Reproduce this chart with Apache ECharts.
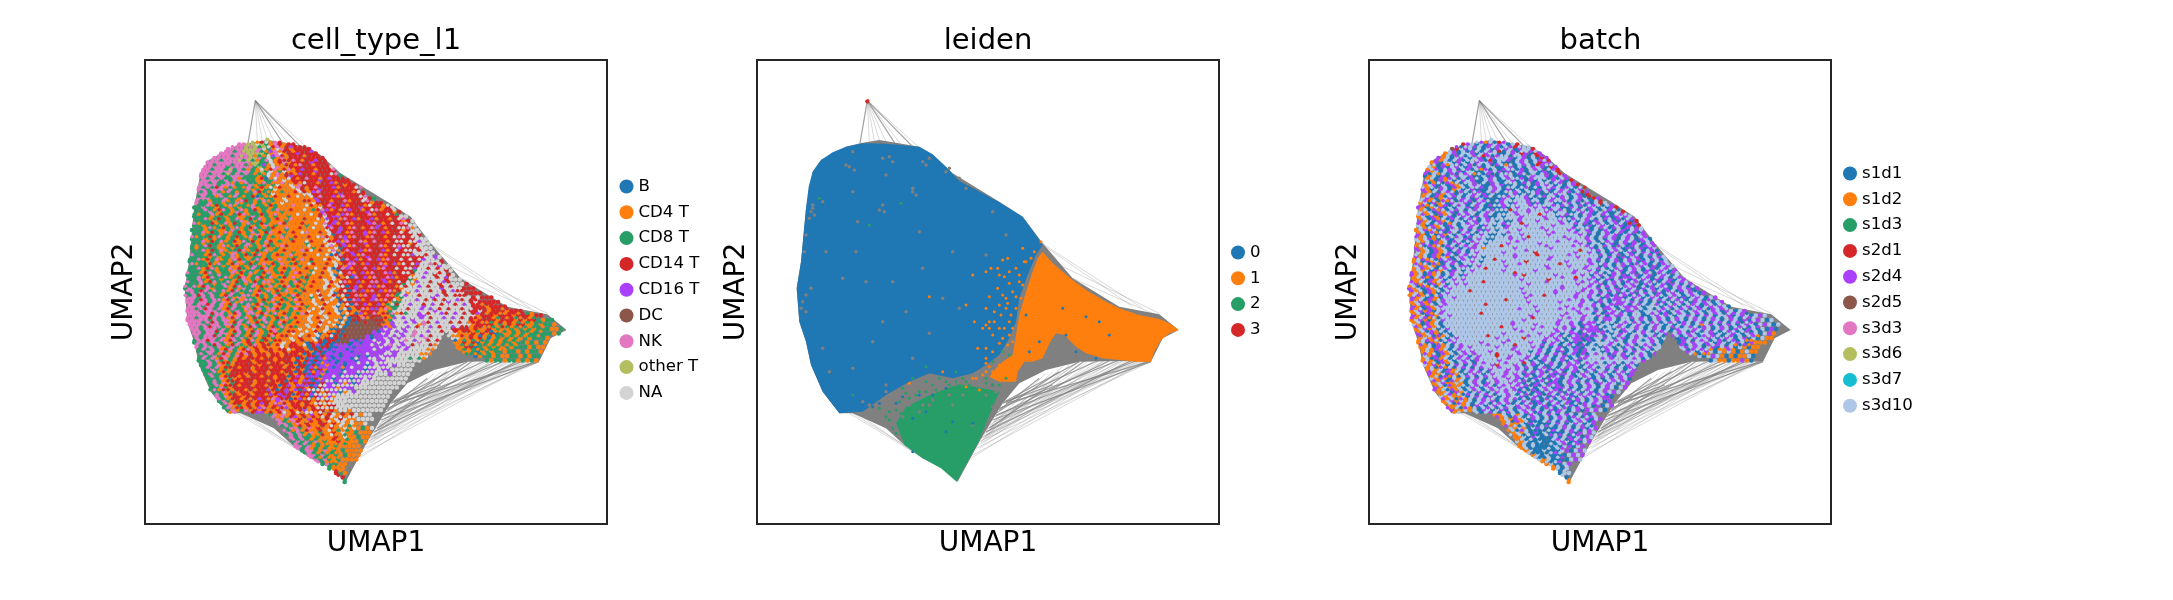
<!DOCTYPE html>
<html><head><meta charset="utf-8">
<style>html,body{margin:0;background:#fff}#c{width:2173px;height:600px}</style>
<script src="https://cdn.jsdelivr.net/npm/echarts@6/dist/echarts.min.js"></script></head>
<body><div id="c"></div>
<script>
const cellTypes=["B","CD4 T","CD8 T","CD14 T","CD16 T","DC","NK","other T","NA"];
const cellTypeColors=["#1f77b4","#ff7f0e","#279e68","#d62728","#aa40fc","#8c564b","#e377c2","#b5bd61","#d3d3d3"];
const leidenNames=["0","1","2","3"];
const leidenColors=["#1f77b4","#ff7f0e","#279e68","#d62728"];
const batches=["s1d1","s1d2","s1d3","s2d1","s2d4","s2d5","s3d3","s3d6","s3d7","s3d10"];
const batchColors=["#1f77b4","#ff7f0e","#279e68","#d62728","#aa40fc","#8c564b","#e377c2","#b5bd61","#17becf","#aec7e8"];

// outlines (UMAP units as read: x right, y down)
const hull=[[244,17],[222,145],[280,135],[400,155],[440,180],[500,235],[640,320],[710,365],[770,445],[860,550],[1000,635],[1120,658],[1178,705],[1130,730],[1095,800],[1000,798],[880,800],[780,825],[700,865],[650,925],[610,990],[580,1040],[515,1160],[470,1120],[410,1090],[355,1050],[300,1000],[200,955],[160,955],[110,890],[75,810],[60,740],[40,680],[32,580],[45,500],[60,340],[80,230],[105,195],[180,155],[222,145]];
const cellsOutline=[[180,150],[280,135],[400,155],[440,180],[500,240],[640,325],[710,370],[770,450],[860,555],[1000,635],[1120,665],[1178,705],[1130,730],[1095,800],[940,800],[860,770],[815,712],[760,790],[730,800],[700,860],[650,920],[600,990],[578,1040],[512,1160],[465,1120],[410,1090],[355,1050],[320,990],[290,960],[215,950],[160,955],[110,890],[75,810],[60,740],[40,680],[32,580],[45,500],[60,340],[80,230],[105,195]];
const edgesDark=[[244,17,222,145],[244,17,380,155],[244,17,330,150],[1090,800,660,925],[1000,795,640,940],[940,795,650,925],[880,800,655,920],[1050,798,630,960],[800,870,660,920],[1095,800,620,975],[900,795,610,1000],[1040,795,600,1010],[760,850,640,945],[820,830,630,955],[970,797,625,965]];
const edgesLight=[[244,17,250,140],[244,17,280,135],[244,17,300,140],[244,17,350,155],[244,17,400,158],[244,17,265,138],[760,440,1070,640],[770,450,1040,635],[800,500,1120,655],[860,550,1110,660],[1095,800,580,1040],[1060,798,585,1030],[1030,798,590,1025],[1000,798,575,1050],[970,798,595,1015],[940,798,600,1005],[1090,795,560,1080],[1020,798,555,1090],[1080,800,570,1060],[1095,790,600,1020],[950,800,610,990],[920,800,590,1035],[870,805,600,1012],[830,815,595,1020],[800,830,585,1040],[1070,795,640,960],[1000,795,630,970],[200,955,355,1050],[190,955,380,1070],[220,960,410,1090],[250,965,360,1040],[110,890,200,955],[1085,798,610,1000],[1045,797,605,1010],[1010,797,612,995],[985,797,600,1030],[955,797,590,1045],[905,800,597,1025],[850,810,590,1030],[1075,797,625,980],[1040,795,618,990],[1015,795,580,1060],[880,800,620,980],[780,835,600,1005]];

// cells per row, left to right inside the outline, one digit per category
const cellTypeRows=["77","6677872163133333","66667776821863133333","66666677772168133433333","6666666677628216133333333","6666666666772281361333343333","66666266666272186113333333338","6666666266621728128113333433333","66666626662221281613433333333332","6666262666221122618133333343333333","66662666222612212811816333333333133","662666262226121228111183133433333333","6626622262221212811111188333333433333","6662226221222612211811111143333333333832","622622122612212121181111118333433333333133","226221221212261221211111111183343333343333138","22262122162122121112111111114333333333433333138","222212212211262121211211111138344333333333333388","2222122122612121211121111111183433333343333333138","22122212122121216121111112111843333333333433333388","222122112621212122111211111111833433333333333331388","2212221212212161211121111111118033333343333333333838","22212122121221212111112111111181334333333333333333888","22122212211262121211111112111188343333433333333313888","212222112122122121121111111211118033333333333343333888","222122121621212112111121111111180134333333333333388888","22221212261211221211111211111111833333343333333333338848","222212122121621211121111211211118133433333333333333388883","2222122121121262121211112111111183143333333433333338888488","22212212216212212112112111121118103333333333333333288888838","2222122622121212212111211112111180133433333333333318888388383","22621221221261212112111121211181813333333334333332188888838883","222622126212212621121112112111181833333333333333281888883888883","26222612221216221211212111211118181333433333333318888888848888333","262626221262122161212111121118118033333333333332818888888388883333","66262622621612212121121211121811801333333433331288888848888888838333","6626626261216222121121121111811811033333333331228888888888488883833333","666266261262162121211211112118118013133333331228888848888888888333133333","66626662612621621211211211181181180131133331128888888884888888833831333133331333","666662662616212621121121111811811101331353311288888448888888888813331333133313331","66666262661262121621211211181181180103355533128888488888888888831333313331313321221","666626626626126212121211118118118010555555311488888168888888888133331213133112122122","66266626216261212161211181181180055555555548488488888888883333131131211212121222112","6626626612621261213111818118013055555555448488488688888888811131313021121212222212","62666261626212131211181311801303555555404484848888868888888113131012121212122212","2662662612613213121181311031303055504044484848488868888888113130121212212212121","626626126212131311181333103033004440444448448484888888888111330212121212221211","22662621261313113113133331030404440444444484488888888888881112012122122121221","2626261263131331331333313303404044404044844488888888888811211012212112212122","2262621213331333313331313030404044404448448888888888888888888221212212212121","2262612133333133333131330304144404444048448488888","22621213333133333333131030314440444404484488888","2622123331333313331313303414440444044488848888","222612133333333133133130314404440448488888888","26261233331333313313133303440414048888888888","226213333333313133133130344414448888888888","2261213313333133431333031344018488888888","626133133333313431133034141888888888888","26213313133314613133313131888888888888","261213131313461331331313388888888888","261261313113613134133313188188888888","26161313141313813138188","6126131413131838118888","66216131133131818118","26621613113118181218","6262161211318112111","626221211131811211","26262612113111121","662612121211111","26621612121111","662621212111","6262121111","262211","2111","321","31","2"];
const cellTypeOverlay=["71381633","666767278361343333","662677762146133133343","666267671218463133313336","66266672721268133363133433","626662662172418113316331333","662662726212181361361343313336","6626627262621218161331433133386","626262261222130181183136331343331","662622612162216211611318331334133313","6262361212162131813118631363334133386","2626216212126321112113831463331333183","26221621621230211311318118363341633386","622122612163212612118111331433133613386","2261321612216221321116118311363341333183318","226213621261231212611311812364131643313861338","2122613212361223216111181181363314613336133832","22612321261232612131161131181433163413341331386","612231261321622321163111311816341361333463138368","2216123216123621231161131181136343163136431338861","226132161231262136131131861131834316334163413383888","612231621232162321216113113186313641633163313868388","2261326123162312631211311831183341633613633138838848","2126321612326121632163111181138613416331336138688388","2261326122361232612131116381318613633416334138388838","622136212612323612132161131181803633416333613838848838","2261326121632126132161231613118318063413634163383838488","61223162136123216132612311831131813663143361341838488638","2261361226132162361213261131813803641336341633838848838388","6221362122613261236123216311813181836134163364138838848838","22613622612361263261231612311311831806341633641338884883848","62261362261326132661231263113118318613413663413838848838843","6261362226136226132612362311311831880341364163318388483883838","66236262613622613261326121311311813806341634161388848838838433","626362621362266132126312631181318318036163413612848838884838333","66236266136216621326132163118131813806413461638188848383838843833","62663626136226136226321263118131181806341341283884883848388384833133","662636261362261362663212631181311818013614416128838848483838838833313313","666263662136266136261321263118131818104136135613288483884384838343133113313213","662663626136261326213261311813181118053613553148488848388484838331331231321312","6662636261362613261263213118131811805053555514884848638488383813311213131212122","6626366213621362613261321181318118055555555414884838848388483313311213212121221","662663621362136123621331181318113055555540448484868848838831331213011212122121","626636213621361236133118131811830355554044484848684838888113131012122121212212","2663626136213612313311813118303305540444844848868488383131012121221212121","626236213621361331381331803403044404444844868848388831112012121221212121","262621362136131331338133103040444044444844488848888111201212121212211","626213621363133133133310304044404444484448848888811120121212212121","262613621313331331333103040414044408448848888882821212212121","2262133133331331331330304041440404484848888888","262613331331333133133030414440414844888888","22613133333133133133030414404448448888888","26213331313313313303414440448488888888","2621333133133133303414404488488888888","26133313313313303414440488488888888","2613313313133430341404888888888","62133133133143433034148888888888","62133131343164330341818888888","2613313134316131331318888888","26133131461313413331388888888","161313441313813818818","6161341313183818188","62163113131818818","26213131131818121","6216131131812121","262612113181121","62621211131121","6262121111121","6261212111","262121211","6212111","62111","2111","31","3","2"];
const batchRows=["94","3490904949093494","53949090904949049934","19409940949900949340349","4190949094094999409409034","1409904909499409000949093449","91040949049409900940909494034","4190949409900949404094099040934","01904094994009040949000949940494","9104190949400949009409040909494034","19409041909490049400900904949090943","410949019094000949040909004940949094","1904194090949409000940909400949909403","9410194094904900004909940900949490949034","190419049940949000490499404099009490940939","410194090994049000040949994940990049094909043","91904194094990949000949949994909900949409400933","190410940949049400909994999949904009094990404949","4190419099094094909009499949999490909404909409403","91041904909949049090499949999949999090409490940403","194190409949094049099994999994999949094090490940949","4109041909490949009099949999949999994909094940940949","91941094099409490099949949999999994999490909409490490","14904190949094909999499999949999999949099094094049094","419041904909449199999949999999499999999409094904094049","9190419404909499999499999939999999949949090490940949049","41904191094904909999994999999949999949999094904094090949","190419049409949099994999939999999949999490909409490490949","9419104909440949999949999999949999499949904909404949040949","19190419049094999999499999949999999949949099094094904094904","4190419094904999999999949399999949999949094904940940940949094","11904190949499999999999949999939999949949094094904949040940949","941904190949499999999999994999999999949949409490949049094049094","41904190949999999999999994999999994999949949094094904940940949404","191041094999999999999999949999994999949949490904940949040949094904","41904109949999999999999994999999999949949904944094909490949040949094","1941409499999999999999999949999994999949904909449490909049094904949094","410419499999999999999999999499999949949949049094449099909490949409494909","19414094999999999999999999994999999994999490949044909994909490949094904909490","4190419949999999999999999949999994999949949094490990094949099490949099409490949","194101949999999999999999949999999499994990944909909490949094909490949094904094909","91041909999999999999994999949999499490449099094909490949090949091949094909490949094","194190949999999999999949994999949490944440990949949094909049994949094904904909040","41941090999999999994999999949949094404909490949099499094094949099409094909490941","1914190949999999949999939999494909440409949094094994909490409499490949094090911","190419094999994999949999949909490904090999949909499949094904949949049094904111","1190419094949999949994999490909409040999049090949094994940949490940949091011","191041909494999499999499094909040940499904949094990949094994909490919101911","91401909490949993994999490949094090949999409409949090949090949094910101190","19104190949049999499994909049094094099999999999994949094990949410911011410","9141909490949994399949094090490944909499949094909","19190419094909499949490904940940949094990949094","4119041909490949949490409494044909490949094904","914109190949094994940904904940949094090949490","19411910949049499494090490440949094904949094","4191190949094949949409094904490909490949094","11904190949094949940904094940949094094949","919119094904909499409409049494094909440","19419190949409490949040949094049094904","1191904909490994949094049094094904094","41191904909409094949094049094049490940","11909190490949094909409","19141904909094909494094","191190490009490949094","91910949000949094094","1919040900009404949","119049000909409049","91900900094904094","190900009094094","19009000940949","190900009494","9190000949","190094","1909","099","09","1"];
const batchOverlay=["94190349","409949049409439994","940904909493094099490","190490949340499099409349","41909409994030994094909493","904199094090904919094903499","194094909409140904990409490943","4091904094919040099904909094093","190414909049094909499404999040943","4019041909940904909990490499094094034","9190490419099409490990940909949049093","4190949049094094909949099409094940934","19041094909490490994999490949904909403","94190419049409490949999949909499409409093","41901409490949049949999949999494909409490943","1904190949094909499939994999949490949049094903","94190419049490949099994999939999949909409490949","190419049094909499999949999949999949949094904094","4190940190949499999499939999999949949409490949034","91941904909490999994999999949999994999094904904949","1904190490949099999949999999994999949949094094094040","41901940949049999999949993999999949999490949409490949","919041904909499999999949999999949994994909490949404904","1904190490949499999399999999949999949949094904904904949","41904190949099999999999949999999999939994909490949094049","919041049094999999999949999399999949999994909409490949094","19419049409499999939999999999949999999949490940949409490949","41904109490999999999999499999999399999949949094904940904904","1941909490999999399999999999994999999949949094909490940949094","41904190949999999999999399999999999949999490949094094904904949","19410949099999999999999999999999949939994909490449094094909490","4190419499999999399999999999994999999949949094904940949094094949","1904190949999999999999999999999999499999490949094940904949094909","4190419099999399999999999999999949999949490949490949094904904940","19419094999999999999999999949939999994994909404940949094909490949","4190419499999999999993999999999999949949094904499094909490949094904","194190949999999939999999999999999999949949094449094909490949094904909","41904199999999999999999949999999949949949094490949490909490949094904949","190419499999999399999999999999999949949909044949099094904094909490949094940","41941909999999999999999999939999999499499094490994949094909490949094909490949","1904190999999999999999499999999949949094490990949490949094904909490949094094","41941909999999999993999999994999949490944909949094909490949094904909490949094","19041909999999999999999499999994994909444409904909490949094904909490949094090","4190419099999993999999994999949490944044909949094909490949094904949094090941","194190949999999999994999999949949094404090994909490949094904909490940940911","41904190949999949999939999949490949040909949094909490949094094904949091041","1914190949999999999949999949094909404909949094909490949094904949101141","4190419094949999399994999490949094040949904949094904949094091011","190419094949499999949994909490949094499949499494909491041011","4190419094909499994999394909490949494949094909494904940","190419094909499949994949094090949409490949090494940","4190419094949099949994949409490940949094909494904","19041909490949994994949049049094094909490949494","4190419094909949994940904904094949094909494","1904119094949094994940409494094909490949","419041909490949949409040949409490949094","19419049094909949094094049094094949490","4190419094990949409049049094094909494","19041909490949409094049094940904949","4190419094909490494090490940949","19041909490949094904909490","41904909490909490490949","190419000949094094904","41909000949094909490","1904900009490949094","9190900094949094","1909000094904949","19090009094094","1900009094","90000949","9009094","19094","1909","09","9","1"];

// leiden regions and scattered members
const leidenBlueRegion=[[60,340],[68,275],[80,230],[105,195],[140,172],[180,155],[230,145],[300,146],[400,155],[440,178],[480,215],[520,258],[640,322],[710,365],[750,420],[770,450],[750,480],[725,540],[700,610],[690,680],[670,730],[640,780],[600,810],[560,835],[500,850],[430,835],[370,860],[300,900],[230,950],[160,955],[110,890],[75,810],[60,740],[40,680],[32,580],[45,500]];
const leidenOrangeRegion=[[770,470],[800,505],[830,530],[860,555],[900,585],[960,620],[1000,640],[1060,660],[1120,672],[1150,685],[1178,705],[1150,715],[1125,735],[1105,770],[1095,800],[1050,800],[1000,795],[950,790],[900,775],[870,755],[855,740],[835,720],[810,715],[790,745],[770,790],[740,800],[715,800],[695,830],[690,860],[640,860],[610,845],[630,820],[650,800],[680,780],[690,720],[700,660],[720,590],[740,530],[755,490]];
const leidenGreenRegion=[[350,1035],[330,985],[360,935],[420,905],[470,885],[520,868],[590,880],[640,890],[610,960],[590,1010],[578,1040],[512,1160],[465,1120],[410,1090],[355,1050]];
const leidenRedTip=[[244,17],[244,21],[246,17],[242,19]];
const leidenOrangeDots=[[600,530],[560,540],[615,520],[650,495],[640,540],[665,490],[635,580],[610,605],[650,600],[670,565],[600,640],[625,650],[590,700],[610,680],[645,660],[660,640],[565,680],[540,630],[430,605],[655,700],[620,720],[670,720],[640,745],[600,760],[575,760],[640,810],[620,830],[590,840],[560,850],[540,875],[370,865],[470,830],[580,885],[660,830],[700,560],[715,500],[745,470],[690,520],[705,610],[675,660],[680,590],[660,610],[690,640],[670,680],[650,730],[680,700],[610,700],[600,690],[625,680],[640,700],[665,750],[680,740],[650,770],[620,770],[600,790],[570,850],[610,815],[600,805],[720,500],[735,490],[700,540],[670,530],[635,520],[655,545],[710,570],[640,630],[665,625],[690,605],[710,460],[765,440],[640,830],[660,810],[600,830]];
const leidenGreenDots=[[420,815],[380,850],[420,860],[350,880],[460,850],[510,830],[530,850],[560,880],[340,920],[370,910],[450,885],[490,870],[310,950],[280,940],[650,770],[620,800],[200,900],[100,310],[345,325],[250,390],[670,780],[600,850],[400,890],[440,870],[420,890],[390,900],[360,895],[330,945],[345,955],[480,860],[510,860],[540,860],[550,870],[600,865],[620,870],[640,870],[660,850],[310,975],[320,1000],[330,1015],[300,965]];
const leidenBlueDots=[[900,665],[940,680],[970,720],[730,770],[760,740],[840,720],[870,770],[930,790],[380,1070],[420,950],[500,980],[560,985],[380,970],[480,1010],[720,660],[830,640],[560,880],[620,870],[440,900],[400,900],[480,880],[350,905],[330,925],[280,925],[260,935]];
const leidenGreyDots=[[180,210],[200,170],[320,200],[300,240],[430,190],[480,230],[110,320],[80,340],[70,370],[200,290],[290,330],[380,280],[400,410],[215,380],[120,470],[50,620],[210,470],[320,560],[410,520],[170,550],[60,650],[290,680],[380,790],[260,740],[200,820],[110,760],[430,715],[520,640],[600,480],[660,420],[520,250],[540,280],[620,350],[230,920],[300,870],[340,900],[280,960],[400,950],[560,990],[630,890],[350,965],[430,930],[240,560],[500,470],[360,650],[470,610],[80,330],[75,350],[85,360],[60,420],[55,470],[190,215],[205,225],[290,190],[310,185],[420,210],[490,220],[410,200],[295,350],[280,345],[380,290],[390,300],[75,580],[60,600],[45,640],[130,830],[300,890],[250,930],[490,900],[530,900],[440,915],[600,900],[620,935],[500,930],[410,930],[370,930]];

function inside(u,v,P){let c=false;for(let i=0,j=P.length-1;i<P.length;j=i++){const a=P[i],b=P[j];if((a[1]>v)!==(b[1]>v)&&u<(b[0]-a[0])*(v-a[1])/(b[1]-a[1])+a[0])c=!c;}return c;}
function decode(rows,n,v0,oddOff,evenOff){
  const out=Array.from({length:n},()=>[]);
  rows.forEach((s,i)=>{
    const v=v0+13.5*i,off=i%2?oddOff:evenOff;let first=-1;
    for(let k=0;k<90;k++){
      const u=13.5*k+off;
      if(!inside(u,v,cellsOutline))continue;
      if(first<0)first=k;
      const c=s[k-first];
      if(c!==undefined)out[+c].push([u,v]);
    }
    if(first<0&&s.length)out[+s[0]].push([(i<2?280:512),v]);
  });
  return out;
}
function poly(name,pts,color,g){return {type:'custom',name,xAxisIndex:g,yAxisIndex:g,silent:true,animation:false,data:[0],
  renderItem:(p,api)=>({type:'polygon',shape:{points:pts.map(q=>api.coord(q))},style:{fill:color}})};}
function edgeSeries(list,op,w,g){return {type:'lines',coordinateSystem:'cartesian2d',xAxisIndex:g,yAxisIndex:g,silent:true,animation:false,
  lineStyle:{color:'#808080',width:w,opacity:op,curveness:0},
  data:list.map(e=>({coords:[[e[0],e[1]],[e[2],e[3]]]}))};}
function dots(name,data,color,g,size){return {type:'scatter',name,data,xAxisIndex:g,yAxisIndex:g,symbol:'circle',symbolSize:size,silent:true,animation:false,itemStyle:{color,opacity:1}};}

const frames=[145,757,1369];
const titles=[["cell_type_l1",371],["leiden",983],["batch",1595.5]];
const legends=[[cellTypes,619.5,178],[leidenNames,1231,244],[batches,1843,165]];
const series=[];
[0,1,2].forEach(g=>{
  series.push(edgeSeries(edgesLight,0.3,1,g),edgeSeries(edgesDark,0.75,1.2,g),poly('hull'+g,hull,'#808080',g));
});
const ct=decode(cellTypeRows,9,135,6.75,0), ctO=decode(cellTypeOverlay,9,141.75,0,6.75);
[8,0,5,7,6,2,1,4,3].forEach(i=>series.push(dots(cellTypes[i],ct[i],cellTypeColors[i],0,4.6)));
[8,0,5,7,6,2,1,4,3].forEach(i=>series.push(dots(cellTypes[i]+' ',ctO[i],cellTypeColors[i],0,3.6)));
series.push(poly('blueRegion',leidenBlueRegion,leidenColors[0],1),poly('greenRegion',leidenGreenRegion,leidenColors[2],1),poly('orangeRegion',leidenOrangeRegion,leidenColors[1],1));
series.push(dots('flecks',leidenGreyDots,'#808080',1,3.5));
series.push(dots('0',leidenBlueDots,leidenColors[0],1,3),dots('1',leidenOrangeDots,leidenColors[1],1,3),dots('2',leidenGreenDots,leidenColors[2],1,3),dots('3',leidenRedTip,leidenColors[3],1,3));
const bt=decode(batchRows,10,135,6.75,0), btO=decode(batchOverlay,10,141.75,0,6.75);
[9,0,4,1,2,3,5,6,7,8].forEach(i=>series.push(dots(batches[i],bt[i],batchColors[i],2,4.6)));
[9,0,4,1,2,3,5,6,7,8].forEach(i=>series.push(dots(batches[i]+' ',btO[i],batchColors[i],2,3.6)));

const chart=echarts.init(document.getElementById('c'),null,{renderer:'canvas'});
chart.setOption({
  animation:false,backgroundColor:'#fff',
  title:titles.map(t=>({text:t[0],left:t[1],top:22,textAlign:'center',textStyle:{fontFamily:'DejaVu Sans',fontSize:29,fontWeight:'normal',color:'#000'}})),
  grid:frames.map(l=>({left:l,top:60,width:462,height:464,show:true,borderColor:'#262626',borderWidth:2,backgroundColor:'transparent'})),
  xAxis:frames.map((l,g)=>({gridIndex:g,type:'value',min:-87,max:1299,axisLine:{show:false},axisTick:{show:false},axisLabel:{show:false},splitLine:{show:false},name:'UMAP1',nameLocation:'middle',nameGap:6,nameTextStyle:{fontFamily:'DejaVu Sans',fontSize:28,color:'#000',verticalAlign:'top'}})),
  yAxis:frames.map((l,g)=>({gridIndex:g,type:'value',inverse:true,min:-105,max:1287,axisLine:{show:false},axisTick:{show:false},axisLabel:{show:false},splitLine:{show:false},name:'UMAP2',nameLocation:'middle',nameGap:6,nameTextStyle:{fontFamily:'DejaVu Sans',fontSize:28,color:'#000'}})),
  legend:legends.map(l=>({data:l[0].map(name=>({name,icon:'circle'})),orient:'vertical',left:l[1],top:l[2],itemWidth:14,itemHeight:14,itemGap:8.8,selectedMode:false,padding:0,textStyle:{fontFamily:'DejaVu Sans',fontSize:16.6,color:'#000'}})),
  series
});
</script></body></html>
